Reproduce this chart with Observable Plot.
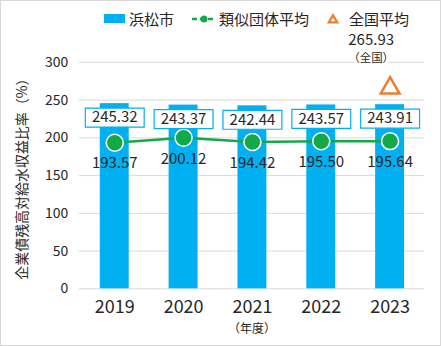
<!DOCTYPE html>
<html><head><meta charset="utf-8">
<script src="https://cdn.jsdelivr.net/npm/d3@7"></script>
<script src="https://cdn.jsdelivr.net/npm/@observablehq/plot@0.6"></script>
<style>
body{margin:0;background:#fff;}
#wrap{position:relative;width:441px;height:346px;box-sizing:border-box;border:1px solid #d9d9d9;overflow:hidden;font-family:"Noto Sans CJK JP",sans-serif;}
#chart{position:absolute;left:-1px;top:-1px;}
#legend{position:absolute;top:7px;left:103px;display:flex;align-items:center;font-size:15px;color:#262626;white-space:nowrap;}
#legend .item{display:flex;align-items:center;margin-right:18px;}
</style></head>
<body><div id="wrap"><div id="legend"></div><div id="chart"></div></div>
<script>
const years = ["2019", "2020", "2021", "2022", "2023"];
const hamamatsu = [245.32, 243.37, 242.44, 243.57, 243.91];
const ruiji = [193.57, 200.12, 194.42, 195.50, 195.64];
const zenkokuYear = ["2023"];
const zenkoku = [265.93];
const yTicks = [0, 50, 100, 150, 200, 250, 300];
const seriesNames = ["浜松市", "類似団体平均", "全国平均"];
const yLabel = "企業債残高対給水収益比率（%）";
const xLabel = "（年度）";
const zenkokuNote = "（全国）";

const BLUE = "#00b0f0", GREEN = "#13a84a", ORANGE = "#ed7d31", TXT = "#262626";

const data = years.map((y, i) => ({year: y, ham: hamamatsu[i], rui: ruiji[i]}));
const nat = zenkokuYear.map((y, i) => ({year: y, v: zenkoku[i]}));

const boxSymbol = {draw(ctx) { ctx.rect(-29.5, -9.5, 59, 19); }};
const fmt = d3.format(".2f");

const chart = Plot.plot({
  width: 441, height: 346,
  marginLeft: 79, marginRight: 16, marginTop: 62, marginBottom: 57,
  style: {fontFamily: '"Noto Sans CJK JP", sans-serif', color: TXT, background: "transparent"},
  x: {domain: years, paddingInner: 0.58, paddingOuter: 0.29},
  y: {domain: [0, 300]},
  marks: [
    Plot.gridY(yTicks, {stroke: "#d9d9d9", strokeOpacity: 1, strokeWidth: 1}),
    Plot.axisY(yTicks, {tickSize: 0, tickPadding: 11, fontSize: 14, label: yLabel, labelAnchor: "center", labelArrow: "none", labelOffset: 62}),
    Plot.axisX({tickSize: 0, tickPadding: 11, fontSize: 18, label: null}),
    Plot.text([xLabel], {frameAnchor: "bottom", lineAnchor: "middle", dy: 40, fontSize: 12, fill: TXT}),
    Plot.barY(data, {x: "year", y: "ham", fill: BLUE}),
    Plot.line(data, {x: "year", y: "rui", stroke: GREEN, strokeWidth: 2.5}),
    Plot.dot(data, {x: "year", y: "rui", r: 8.5, fill: GREEN, stroke: "white", strokeWidth: 1.5}),
    Plot.dot(data, {x: "year", y: "ham", symbol: boxSymbol, fill: "white", stroke: BLUE, strokeWidth: 1.2, dy: 14}),
    Plot.text(data, {x: "year", y: "ham", text: d => fmt(d.ham), dy: 14, fontSize: 15, fill: TXT}),
    Plot.text(data, {x: "year", y: "rui", text: d => fmt(d.rui), dy: 21, fontSize: 15, fill: TXT}),
    Plot.dot(nat, {x: "year", y: "v", symbol: "triangle", r: 7, fill: "white", stroke: ORANGE, strokeWidth: 2.5}),
    Plot.text(nat, {x: "year", y: "v", text: d => fmt(d.v), dx: -19, dy: -48, fontSize: 15, fill: TXT, stroke: "white", strokeWidth: 4}),
    Plot.text(nat, {x: "year", y: "v", text: () => zenkokuNote, dx: -19, dy: -30, fontSize: 11.5, fill: TXT, stroke: "white", strokeWidth: 6})
  ]
});
document.getElementById("chart").appendChild(chart);

const lg = d3.select("#legend");
const i0 = lg.append("div").attr("class", "item");
i0.append("span").style("display", "inline-block").style("width", "21px").style("height", "9px").style("background", BLUE).style("margin-right", "4px");
i0.append("span").text(seriesNames[0]);
const i1 = lg.append("div").attr("class", "item");
const s1 = i1.append("svg").attr("width", 24).attr("height", 12).style("margin-right", "3px");
s1.append("line").attr("x1", 0).attr("x2", 24).attr("y1", 6).attr("y2", 6).attr("stroke", GREEN).attr("stroke-width", 2.5).attr("stroke-dasharray", "5,3");
s1.append("circle").attr("cx", 12).attr("cy", 6).attr("r", 3.5).attr("fill", GREEN);
i1.append("span").text(seriesNames[1]);
const i2 = lg.append("div").attr("class", "item");
const s2 = i2.append("svg").attr("width", 12).attr("height", 12).style("margin-right", "10px");
s2.append("path").attr("d", d3.symbol(d3.symbolTriangle2, 50)()).attr("transform", "translate(6,7)").attr("fill", "none").attr("stroke", ORANGE).attr("stroke-width", 2.2);
i2.append("span").text(seriesNames[2]);
</script></body></html>
